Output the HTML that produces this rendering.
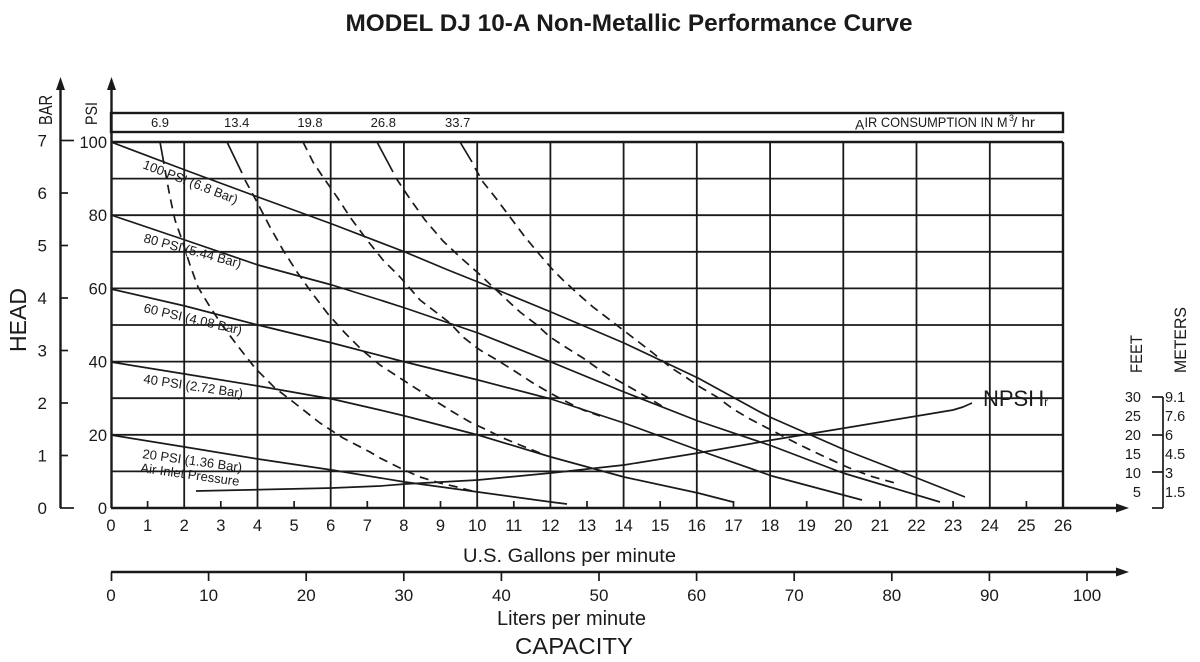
<!DOCTYPE html>
<html><head><meta charset="utf-8"><style>
html,body{margin:0;padding:0;background:#fff;}
svg{display:block;}
text{font-family:"Liberation Sans",Arial,sans-serif;fill:#1a1a1a;}
</style></head><body>
<svg width="1200" height="662" viewBox="0 0 1200 662" xmlns="http://www.w3.org/2000/svg">
<rect width="1200" height="662" fill="#fff"/>
<!-- Title -->
<text x="629" y="31" font-size="24" font-weight="bold" text-anchor="middle" textLength="567" lengthAdjust="spacingAndGlyphs">MODEL DJ 10-A Non-Metallic Performance Curve</text>

<g stroke="#1a1a1a" fill="none">
<!-- grid verticals -->
<g stroke-width="1.8">
<line x1="184.2" y1="142" x2="184.2" y2="508"/>
<line x1="257.5" y1="142" x2="257.5" y2="508"/>
<line x1="330.7" y1="142" x2="330.7" y2="508"/>
<line x1="403.9" y1="142" x2="403.9" y2="508"/>
<line x1="477.2" y1="142" x2="477.2" y2="508"/>
<line x1="550.4" y1="142" x2="550.4" y2="508"/>
<line x1="623.6" y1="142" x2="623.6" y2="508"/>
<line x1="696.8" y1="142" x2="696.8" y2="508"/>
<line x1="770.1" y1="142" x2="770.1" y2="508"/>
<line x1="843.3" y1="142" x2="843.3" y2="508"/>
<line x1="916.5" y1="142" x2="916.5" y2="508"/>
<line x1="989.8" y1="142" x2="989.8" y2="508"/>
<!-- grid horizontals -->
<line x1="111" y1="178.6" x2="1063" y2="178.6"/>
<line x1="111" y1="215.2" x2="1063" y2="215.2"/>
<line x1="111" y1="251.8" x2="1063" y2="251.8"/>
<line x1="111" y1="288.4" x2="1063" y2="288.4"/>
<line x1="111" y1="325" x2="1063" y2="325"/>
<line x1="111" y1="361.6" x2="1063" y2="361.6"/>
<line x1="111" y1="398.2" x2="1063" y2="398.2"/>
<line x1="111" y1="434.8" x2="1063" y2="434.8"/>
<line x1="111" y1="471.4" x2="1063" y2="471.4"/>
</g>
<!-- frame -->
<g stroke-width="2.4">
<line x1="111" y1="142" x2="1063" y2="142"/>
<line x1="1063" y1="142" x2="1063" y2="508"/>
<rect x="111" y="113" width="952" height="19"/>
<line x1="111.5" y1="86" x2="111.5" y2="508"/>
<line x1="60.5" y1="86" x2="60.5" y2="508"/>
<line x1="111" y1="508" x2="1118" y2="508"/>
<line x1="111" y1="572" x2="1118" y2="572"/>
</g>
<g stroke-width="1.7">
<line x1="60" y1="140.5" x2="74" y2="140.5"/>
<line x1="60" y1="193" x2="68" y2="193"/>
<line x1="60" y1="245.5" x2="68" y2="245.5"/>
<line x1="60" y1="298" x2="68" y2="298"/>
<line x1="60" y1="350.5" x2="68" y2="350.5"/>
<line x1="60" y1="403" x2="68" y2="403"/>
<line x1="60" y1="455.5" x2="68" y2="455.5"/>
<line x1="60" y1="508" x2="74" y2="508"/>
<line x1="147.6" y1="508" x2="147.6" y2="501"/>
<line x1="220.8" y1="508" x2="220.8" y2="501"/>
<line x1="294.1" y1="508" x2="294.1" y2="501"/>
<line x1="367.3" y1="508" x2="367.3" y2="501"/>
<line x1="440.5" y1="508" x2="440.5" y2="501"/>
<line x1="513.8" y1="508" x2="513.8" y2="501"/>
<line x1="587" y1="508" x2="587" y2="501"/>
<line x1="660.2" y1="508" x2="660.2" y2="501"/>
<line x1="733.5" y1="508" x2="733.5" y2="501"/>
<line x1="806.7" y1="508" x2="806.7" y2="501"/>
<line x1="879.9" y1="508" x2="879.9" y2="501"/>
<line x1="953.1" y1="508" x2="953.1" y2="501"/>
<line x1="1026.4" y1="508" x2="1026.4" y2="501"/>
<line x1="111.5" y1="572" x2="111.5" y2="581"/>
<line x1="208.6" y1="572" x2="208.6" y2="581"/>
<line x1="306.2" y1="572" x2="306.2" y2="581"/>
<line x1="403.8" y1="572" x2="403.8" y2="581"/>
<line x1="501.4" y1="572" x2="501.4" y2="581"/>
<line x1="599" y1="572" x2="599" y2="581"/>
<line x1="696.6" y1="572" x2="696.6" y2="581"/>
<line x1="794.2" y1="572" x2="794.2" y2="581"/>
<line x1="891.8" y1="572" x2="891.8" y2="581"/>
<line x1="989.4" y1="572" x2="989.4" y2="581"/>
<line x1="1087" y1="572" x2="1087" y2="581"/>
<line x1="1163" y1="397" x2="1163" y2="508"/>
<line x1="1152" y1="397" x2="1163" y2="397"/>
<line x1="1152" y1="435" x2="1163" y2="435"/>
<line x1="1152" y1="472" x2="1163" y2="472"/>
<line x1="1152" y1="508" x2="1163" y2="508"/>
</g>

<!-- pressure lines -->
<g stroke-width="1.7" stroke-linejoin="round">
<polyline points="111,142 185,170 258,197 332,224 405,252 448,270 478,282 551,312 624,343 698,378 760,412 772,418 845,450 917,478 965,497"/>
<polyline points="111,215 185,240 258,265 332,285 380,300 405,308 478,333 551,362 624,392 698,421 772,446 843,473 940,502"/>
<polyline points="111,289 185,306 258,325 332,343 405,362 478,380 551,399 624,423 698,450 772,476 862,500"/>
<polyline points="111,362 185,374 258,386 332,399 380,410 405,416 478,435 551,457 624,477 698,493 733,502"/>
<polyline points="111,435 185,447 258,459 332,470 405,482 478,492 551,502 567,504"/>
<polyline points="196,491 243,490 332,488 380,486 405,484 478,480 551,473 624,465 698,453 772,440 845,428 917,416 953,410 963,407 972,403"/>
<line x1="160" y1="142" x2="164" y2="164"/>
<line x1="227" y1="142" x2="242" y2="173"/>
<line x1="377" y1="142" x2="393" y2="172"/>
<line x1="460" y1="142" x2="472" y2="162"/>
</g>
<g stroke-width="1.7" stroke-dasharray="9 6" stroke-linejoin="round">
<polyline points="165,170 170,197 175,220 182,240 190,265 198,287 210,307 222,325 237,345 255,368 275,388 292,401 320,423 343,438 370,452 380,458 400,468 420,477 440,483 457,487 472,491"/>
<polyline points="245,180 257,202 270,227 283,250 297,272 312,293 328,314 345,333 362,350 380,365 403,380 420,391 437,402 453,412 470,422 487,430 503,438 520,445 540,453"/>
<polyline points="303,142 313,162 323,177 337,197 350,217 367,240 383,260 400,277 407,285 420,300 437,313 450,323 463,337 480,350 497,360 513,370 533,383 550,393 567,402 583,410 600,416"/>
<polyline points="396,178 408,196 425,220 443,241 460,257 477,272 493,287 507,300 520,312 537,325 550,337 567,348 583,358 600,370 617,380 633,389 647,397 665,408"/>
<polyline points="475,168 483,182 495,197 510,217 525,237 540,255 553,270 563,280 577,293 593,307 610,320 627,333 640,343 653,353 670,367 687,378 700,387 717,397 733,409 750,419 773,431 800,445 825,457 847,467 870,476 895,483"/>
</g>
</g>

<g fill="#1a1a1a">
<polygon points="60.5,77 56,90 65,90"/>
<polygon points="111.5,77 107,90 116,90"/>
<polygon points="1129,508 1116,503.5 1116,512.5"/>
<polygon points="1129,572 1116,567.5 1116,576.5"/>
</g>

<text transform="translate(52,110) rotate(-90)" font-size="18" text-anchor="middle" textLength="30" lengthAdjust="spacingAndGlyphs">BAR</text>
<text transform="translate(97,113.5) rotate(-90)" font-size="17" text-anchor="middle" textLength="23" lengthAdjust="spacingAndGlyphs">PSI</text>
<text transform="translate(26,320) rotate(-90)" font-size="23" text-anchor="middle">HEAD</text>

<g font-size="17" text-anchor="end">
<text x="47" y="146.5">7</text>
<text x="47" y="199">6</text>
<text x="47" y="251.5">5</text>
<text x="47" y="304">4</text>
<text x="47" y="356.5">3</text>
<text x="47" y="409">2</text>
<text x="47" y="461.5">1</text>
<text x="47" y="514">0</text>
</g>
<g font-size="16.5" text-anchor="end">
<text x="107" y="148">100</text>
<text x="107" y="221">80</text>
<text x="107" y="294.5">60</text>
<text x="107" y="367.5">40</text>
<text x="107" y="441">20</text>
<text x="107" y="514">0</text>
</g>

<g font-size="16.5" text-anchor="middle">
<text x="111" y="531">0</text>
<text x="147.6" y="531">1</text>
<text x="184.2" y="531">2</text>
<text x="220.8" y="531">3</text>
<text x="257.5" y="531">4</text>
<text x="294.1" y="531">5</text>
<text x="330.7" y="531">6</text>
<text x="367.3" y="531">7</text>
<text x="403.9" y="531">8</text>
<text x="440.5" y="531">9</text>
<text x="477.2" y="531">10</text>
<text x="513.8" y="531">11</text>
<text x="550.4" y="531">12</text>
<text x="587" y="531">13</text>
<text x="623.6" y="531">14</text>
<text x="660.2" y="531">15</text>
<text x="696.8" y="531">16</text>
<text x="733.5" y="531">17</text>
<text x="770.1" y="531">18</text>
<text x="806.7" y="531">19</text>
<text x="843.3" y="531">20</text>
<text x="879.9" y="531">21</text>
<text x="916.5" y="531">22</text>
<text x="953.1" y="531">23</text>
<text x="989.8" y="531">24</text>
<text x="1026.4" y="531">25</text>
<text x="1063" y="531">26</text>
</g>
<text x="569.5" y="562" font-size="19" text-anchor="middle" textLength="213" lengthAdjust="spacingAndGlyphs">U.S. Gallons per minute</text>

<g font-size="17" text-anchor="middle">
<text x="111" y="601">0</text>
<text x="208.6" y="601">10</text>
<text x="306.2" y="601">20</text>
<text x="403.8" y="601">30</text>
<text x="501.4" y="601">40</text>
<text x="599" y="601">50</text>
<text x="696.6" y="601">60</text>
<text x="794.2" y="601">70</text>
<text x="891.8" y="601">80</text>
<text x="989.4" y="601">90</text>
<text x="1087" y="601">100</text>
</g>
<text x="571.5" y="625" font-size="20" text-anchor="middle" textLength="149" lengthAdjust="spacingAndGlyphs">Liters per minute</text>
<text x="574" y="654" font-size="23" text-anchor="middle" textLength="118" lengthAdjust="spacingAndGlyphs">CAPACITY</text>

<g font-size="13" text-anchor="middle">
<text x="160" y="127">6.9</text>
<text x="236.7" y="127">13.4</text>
<text x="310" y="127">19.8</text>
<text x="383.3" y="127">26.8</text>
<text x="457.7" y="127">33.7</text>
</g>
<text x="855" y="129.5" font-size="14">A</text>
<text x="864.5" y="127" font-size="14" textLength="143" lengthAdjust="spacingAndGlyphs">IR CONSUMPTION IN M</text>
<text x="1009" y="121" font-size="9">3</text>
<text x="1013" y="127" font-size="14" textLength="22" lengthAdjust="spacingAndGlyphs">/ hr</text>

<g font-size="13">
<text transform="translate(142,168) rotate(21)">100 PSI (6.8 Bar)</text>
<text transform="translate(143,242) rotate(15)">80 PSI (5.44 Bar)</text>
<text transform="translate(143,312) rotate(13)">60 PSI (4.08 Bar)</text>
<text transform="translate(143,383) rotate(8.5)">40 PSI (2.72 Bar)</text>
<text transform="translate(142,458) rotate(8)">20 PSI (1.36 Bar)</text>
<text transform="translate(140,472) rotate(8)">Air Inlet Pressure</text>
</g>

<text x="983" y="406" font-size="22">NPSH<tspan font-size="12">r</tspan></text>
<text transform="translate(1142,354) rotate(-90)" font-size="17" text-anchor="middle" textLength="38" lengthAdjust="spacingAndGlyphs">FEET</text>
<text transform="translate(1186,340) rotate(-90)" font-size="17" text-anchor="middle" textLength="66" lengthAdjust="spacingAndGlyphs">METERS</text>
<g font-size="14.5" text-anchor="end">
<text x="1141" y="402">30</text>
<text x="1141" y="421">25</text>
<text x="1141" y="440">20</text>
<text x="1141" y="459">15</text>
<text x="1141" y="478">10</text>
<text x="1141" y="497">5</text>
</g>
<g font-size="14.5">
<text x="1165" y="402">9.1</text>
<text x="1165" y="421">7.6</text>
<text x="1165" y="440">6</text>
<text x="1165" y="459">4.5</text>
<text x="1165" y="478">3</text>
<text x="1165" y="497">1.5</text>
</g>
</svg>
</body></html>
